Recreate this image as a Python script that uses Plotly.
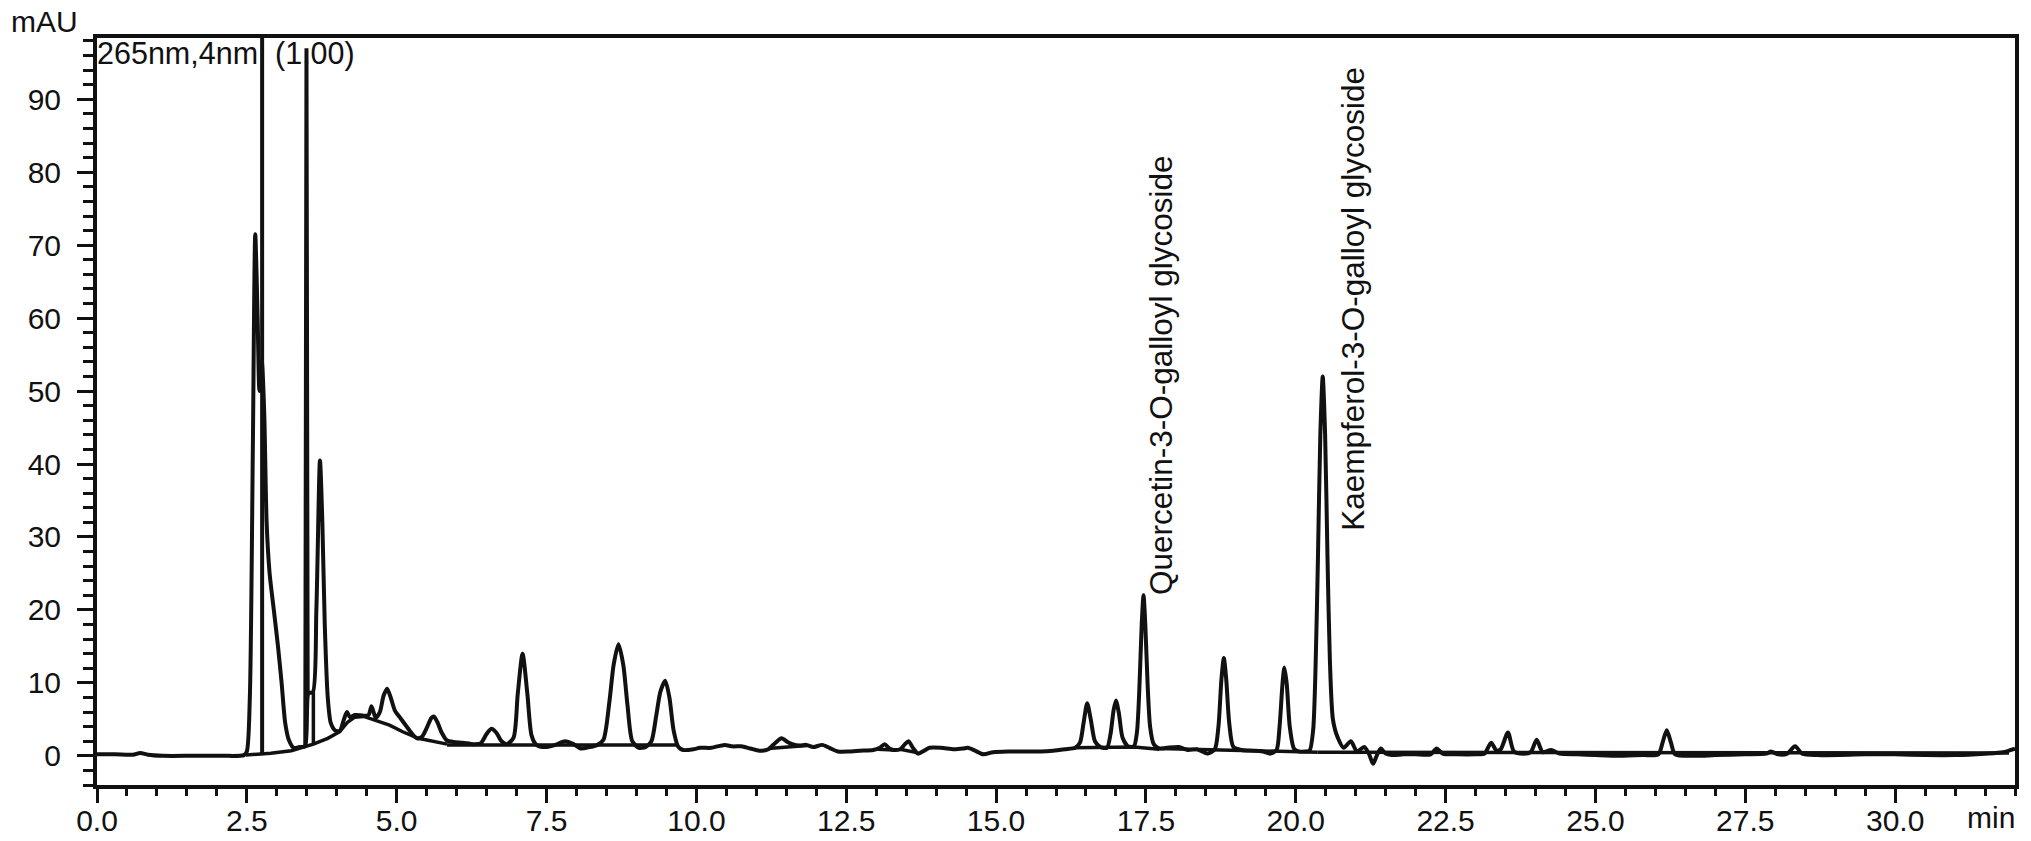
import plotly.graph_objects as go

# ---------------- data ----------------
signal_time = [
    0.00, 0.30, 0.60, 0.72, 0.85, 1.10, 1.60, 2.10, 2.45, 2.50, 2.55, 2.60, 2.64, 2.68, 2.71, 2.75,
    2.79, 2.83, 2.88, 2.95, 3.02, 3.08, 3.14, 3.20, 3.28, 3.38, 3.47, 3.53, 3.60, 3.66, 3.72, 3.76,
    3.80, 3.85, 3.90, 3.97, 4.05, 4.12, 4.17, 4.22, 4.30, 4.45, 4.53, 4.58, 4.65, 4.72, 4.78, 4.84,
    4.90, 4.97, 5.05, 5.15, 5.25, 5.34, 5.42, 5.50, 5.58, 5.62, 5.68, 5.75, 5.84, 5.95, 6.10, 6.28,
    6.40, 6.50, 6.58, 6.66, 6.75, 6.84, 6.95, 7.02, 7.10, 7.18, 7.25, 7.33, 7.48, 7.65, 7.81, 7.95,
    8.07, 8.22, 8.35, 8.45, 8.55, 8.62, 8.70, 8.78, 8.85, 8.93, 9.04, 9.15, 9.25, 9.33, 9.40, 9.48,
    9.55, 9.62, 9.70, 9.78, 9.95, 10.06, 10.25, 10.47, 10.60, 10.75, 10.90, 11.05, 11.20, 11.32,
    11.42, 11.52, 11.60, 11.72, 11.83, 11.95, 12.10, 12.22, 12.36, 12.55, 12.73, 12.95, 13.06, 13.14,
    13.22, 13.29, 13.40, 13.48, 13.54, 13.62, 13.70, 13.80, 13.89, 14.08, 14.30, 14.45, 14.53, 14.65,
    14.79, 14.95, 15.20, 15.50, 15.75, 15.95, 16.15, 16.32, 16.40, 16.46, 16.52, 16.58, 16.65, 16.74,
    16.85, 16.91, 16.96, 17.00, 17.05, 17.11, 17.20, 17.30, 17.35, 17.39, 17.43, 17.46, 17.49, 17.53,
    17.57, 17.63, 17.72, 17.85, 18.05, 18.20, 18.35, 18.53, 18.65, 18.71, 18.76, 18.80, 18.84, 18.89,
    18.96, 19.10, 19.30, 19.45, 19.58, 19.68, 19.73, 19.78, 19.81, 19.85, 19.90, 19.97, 20.05, 20.15,
    20.23, 20.29, 20.33, 20.37, 20.41, 20.45, 20.49, 20.53, 20.57, 20.62, 20.70, 20.80, 20.92, 21.02,
    21.14, 21.22, 21.29, 21.36, 21.42, 21.50, 21.60, 21.80, 22.00, 22.25, 22.35, 22.45, 22.70, 23.00,
    23.15, 23.26, 23.35, 23.42, 23.54, 23.64, 23.80, 23.92, 24.02, 24.12, 24.26, 24.40, 24.70, 25.00,
    25.40, 25.80, 26.05, 26.12, 26.19, 26.26, 26.33, 26.67, 27.00, 27.50, 27.85, 27.93, 28.05, 28.20,
    28.33, 28.45, 28.70, 29.50, 30.00, 30.50, 31.00, 31.50, 31.80, 32.00,
]
signal_mau = [
    0.2, 0.2, 0.15, 0.4, 0.15, 0.0, 0.0, 0.0, 0.1, 0.6, 8.0, 42.0, 71.5, 60.0, 50.0, 54.0,
    47.0, 32.0, 25.0, 20.0, 15.0, 10.0, 4.5, 2.2, 1.1, 1.2, 1.3, 8.6, 8.7, 20.0, 40.5, 32.0,
    18.0, 8.0, 4.5, 3.5, 3.4, 5.0, 6.0, 5.3, 5.6, 5.5, 5.6, 6.8, 5.2, 6.0, 8.2, 9.2,
    8.0, 6.2, 5.3, 4.2, 3.1, 2.4, 2.6, 3.8, 5.2, 5.4, 4.6, 3.2, 2.1, 1.9, 1.8, 1.6,
    1.7, 3.0, 3.7, 3.2, 2.0, 1.6, 2.5, 8.5, 14.0, 8.5, 2.8, 1.5, 1.2, 1.5, 2.0, 1.6,
    1.0, 1.2, 1.5, 2.2, 7.5, 12.5, 15.3, 12.5, 7.0, 2.0, 1.1, 1.2, 2.0, 5.5, 8.8, 10.3,
    8.0, 3.5, 1.2, 0.8, 0.9, 1.1, 1.1, 1.5, 1.3, 1.3, 1.0, 0.7, 0.9, 1.8,
    2.4, 1.9, 1.6, 1.4, 1.5, 1.2, 1.5, 1.1, 0.6, 0.6, 0.7, 0.8, 1.1, 1.6,
    1.0, 0.8, 0.9, 1.6, 2.0, 1.0, 0.3, 0.7, 1.1, 1.1, 0.9, 1.0, 1.1, 0.7,
    0.2, 0.5, 0.6, 0.6, 0.6, 0.7, 0.9, 1.1, 1.8, 4.5, 7.2, 5.0, 2.0, 1.2,
    1.1, 3.0, 6.2, 7.6, 5.8, 2.5, 1.3, 1.3, 3.2, 9.0, 18.0, 22.0, 18.0, 9.5,
    4.0, 1.6, 1.0, 1.1, 1.2, 0.8, 0.9, 0.3, 0.9, 4.0, 10.5, 13.4, 10.5, 4.5,
    1.2, 0.8, 0.7, 0.6, 0.3, 0.8, 4.0, 10.0, 12.1, 9.8, 4.0, 1.0, 0.6, 0.6,
    0.7, 3.5, 12.0, 27.0, 44.0, 52.0, 44.0, 27.0, 13.0, 5.0, 2.5, 1.1, 2.0, 0.6,
    1.2, 0.3, -1.1, 0.2, 1.0, 0.3, 0.1, 0.2, 0.2, 0.2, 1.0, 0.3, 0.2, 0.2,
    0.3, 1.8, 0.7, 0.9, 3.2, 0.6, 0.3, 0.5, 2.2, 0.5, 0.8, 0.3, 0.2, 0.1,
    0.0, 0.1, 0.2, 1.8, 3.5, 1.8, 0.2, 0.0, 0.1, 0.2, 0.3, 0.6, 0.2, 0.3,
    1.3, 0.3, 0.1, 0.2, 0.2, 0.1, 0.1, 0.3, 0.5, 1.0,
]

# integration baselines / drop lines drawn by the software (None = break)
baseline_time = [2.48, 2.90, 3.24, 3.61, 3.85, 4.05, 4.18, 4.30, 4.45, 4.65, 4.88, 5.10, 5.36, 5.84, None,
                 3.61, 3.61, None,
                 5.84, 9.70, None,
                 11.20, 11.85, None,
                 13.02, 13.30, None,
                 13.40, 13.70, None,
                 16.30, 17.30, 17.72, None,
                 17.72, 20.36, None,
                 20.36, 31.90]
baseline_mau = [0.1, 0.35, 0.7, 1.6, 2.4, 3.3, 4.6, 5.3, 5.4, 4.9, 4.2, 3.3, 2.4, 1.6, None,
                1.6, 8.7, None,
                1.5, 1.5, None,
                1.0, 1.4, None,
                0.9, 0.8, None,
                0.9, 0.4, None,
                1.1, 1.2, 0.9, None,
                1.0, 0.5, None,
                0.5, 0.4]

# off-scale / very narrow peaks
spike_time = [2.755, 2.755, None, 3.475, 3.495, 3.515]
spike_mau = [0.3, 130.0, None, 1.3, 97.0, 8.6]

peak_labels = ["Quercetin-3-O-galloyl glycoside", "Kaempferol-3-O-galloyl glycoside"]
label_time = [17.75, 20.95]
label_mau = [52.2, 62.6]

x_range = [0, 32]
y_range = [-4, 98.4]

FONT = "Liberation Sans, Arial, Helvetica, sans-serif"
INK = "#111111"

fig = go.Figure()
fig.add_trace(go.Scatter(x=signal_time, y=signal_mau, mode="lines",
                         line=dict(color=INK, width=4, shape="spline", smoothing=0.7),
                         showlegend=False, hoverinfo="skip"))
fig.add_trace(go.Scatter(x=baseline_time, y=baseline_mau, mode="lines",
                         line=dict(color=INK, width=3.5), connectgaps=False,
                         showlegend=False, hoverinfo="skip"))
fig.add_trace(go.Scatter(x=spike_time, y=spike_mau, mode="lines",
                         line=dict(color=INK, width=4), connectgaps=False,
                         showlegend=False, hoverinfo="skip"))

for txt, tx, ty in zip(peak_labels, label_time, label_mau):
    fig.add_annotation(x=tx, y=ty, xref="x", yref="y", text=txt, textangle=-90,
                       showarrow=False, xanchor="center", yanchor="middle",
                       font=dict(family=FONT, size=31.5, color=INK))

fig.add_annotation(x=0, y=1, xref="paper", yref="paper", text="265nm,4nm\u00a0 (1.00)",
                   showarrow=False, xanchor="left", yanchor="middle", xshift=-2, yshift=-15,
                   font=dict(family=FONT, size=30.5, color=INK))
fig.add_annotation(x=0, y=1, xref="paper", yref="paper", text="mAU",
                   showarrow=False, xanchor="right", yanchor="middle", xshift=-17, yshift=17,
                   font=dict(family=FONT, size=30, color=INK))
fig.add_annotation(x=1, y=0, xref="paper", yref="paper", text="min",
                   showarrow=False, xanchor="right", yanchor="top", xshift=2, yshift=-14,
                   font=dict(family=FONT, size=30, color=INK))

axis_common = dict(showline=True, linecolor=INK, linewidth=4, mirror=True,
                   showgrid=False, zeroline=False, ticks="outside", tickcolor=INK,
                   tickwidth=3, tickfont=dict(family=FONT, size=30, color=INK))

fig.update_xaxes(range=x_range, ticklen=14, ticklabelstandoff=-8,
                 tickvals=[0, 2.5, 5, 7.5, 10, 12.5, 15, 17.5, 20, 22.5, 25, 27.5, 30],
                 ticktext=["0.0", "2.5", "5.0", "7.5", "10.0", "12.5", "15.0", "17.5",
                           "20.0", "22.5", "25.0", "27.5", "30.0"],
                 minor=dict(dtick=0.5, tick0=0, ticklen=7, tickwidth=3, tickcolor=INK, ticks="outside"),
                 **axis_common)
fig.update_yaxes(range=y_range, tick0=0, dtick=10, ticklen=16, ticklabelstandoff=10,
                 minor=dict(dtick=2, tick0=0, ticklen=10, tickwidth=3, tickcolor=INK, ticks="outside"),
                 **axis_common)

fig.update_layout(width=2031, height=841, plot_bgcolor="white", paper_bgcolor="white",
                  margin=dict(l=97, r=16, t=38, b=56, autoexpand=False),
                  font=dict(family=FONT, color=INK))

fig.write_html("out.html", config={"displayModeBar": False},
               post_script="document.body.style.margin='0px';document.body.style.overflow='hidden';")
